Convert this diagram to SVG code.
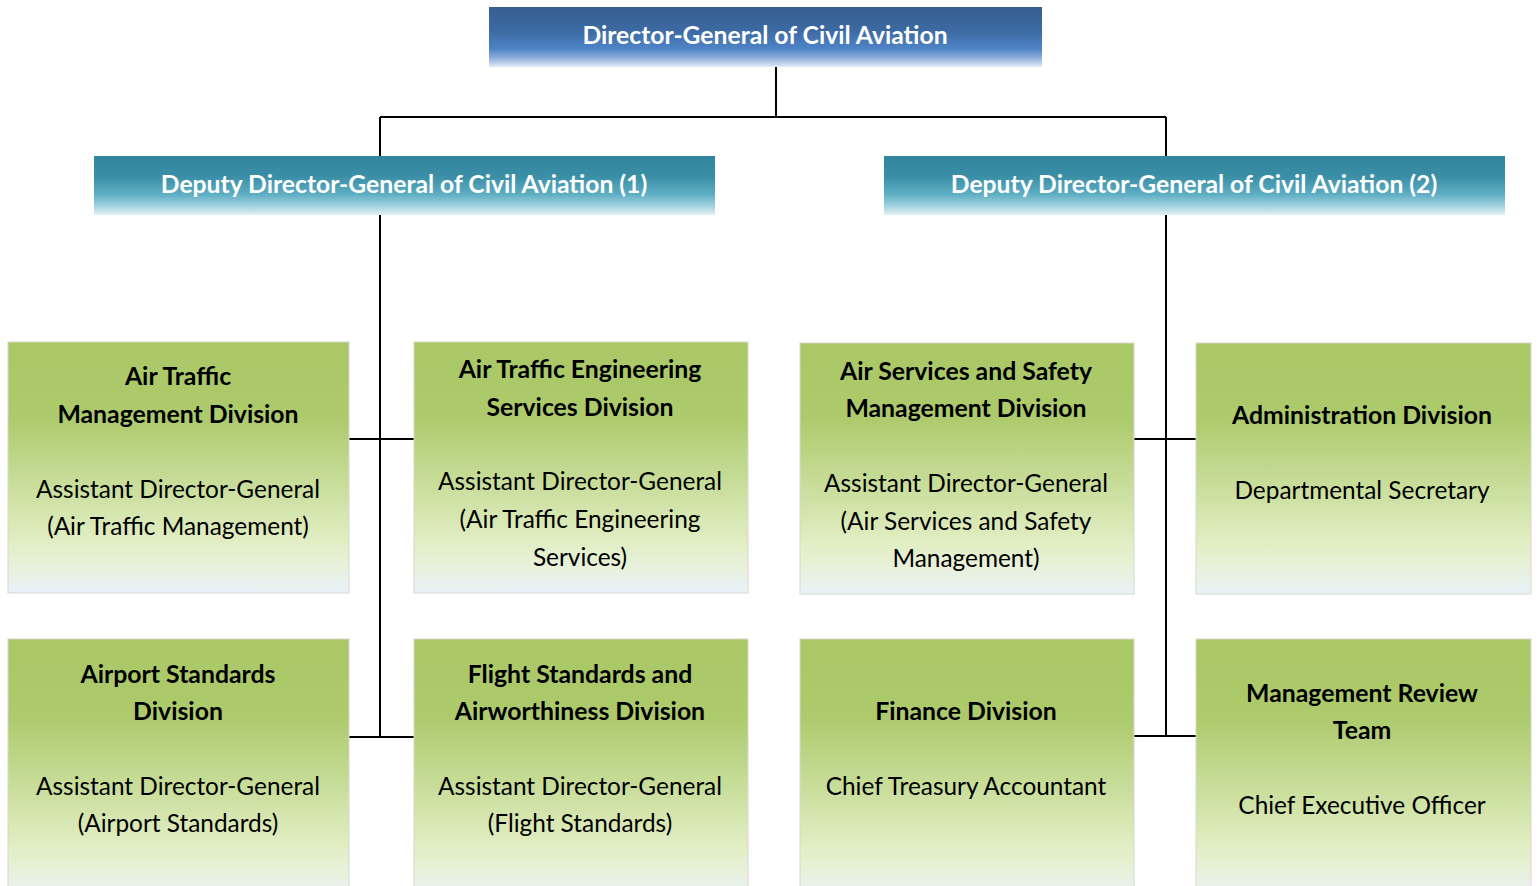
<svg xmlns="http://www.w3.org/2000/svg" width="1538" height="886" viewBox="0 0 1538 886">
  <defs>
    <linearGradient id="gTop" x1="0" y1="0" x2="0" y2="1">
      <stop offset="0" stop-color="#365f91"/>
      <stop offset="0.4" stop-color="#3d6aa3"/>
      <stop offset="0.7" stop-color="#4f84c8"/>
      <stop offset="0.85" stop-color="#8eaedb"/>
      <stop offset="1" stop-color="#e3ebf6"/>
    </linearGradient>
    <linearGradient id="gDep" x1="0" y1="0" x2="0" y2="1">
      <stop offset="0" stop-color="#31859c"/>
      <stop offset="0.35" stop-color="#3a8fa6"/>
      <stop offset="0.65" stop-color="#5eaec4"/>
      <stop offset="0.85" stop-color="#a3d2df"/>
      <stop offset="1" stop-color="#e4f1f5"/>
    </linearGradient>
    <linearGradient id="gDiv" x1="0" y1="0" x2="0" y2="1">
      <stop offset="0" stop-color="#aac866"/>
      <stop offset="0.3" stop-color="#adca6c"/>
      <stop offset="0.55" stop-color="#c6dc97"/>
      <stop offset="0.8" stop-color="#e2eec4"/>
      <stop offset="0.9" stop-color="#e8f1dc"/>
      <stop offset="1" stop-color="#eaf2fa"/>
    </linearGradient>
  </defs>
  <style>
    .head { font-family: Lato, "Open Sans", sans-serif; font-weight: bold; fill: #ffffff; text-anchor: middle; font-size: 24.7px; }
    .title { font-family: Lato, "Open Sans", sans-serif; font-weight: bold; fill: #000000; text-anchor: middle; font-size: 24.8px; }
    .role { font-family: Lato, "Open Sans", sans-serif; fill: #000000; text-anchor: middle; font-size: 24.4px; }
    .div { fill: url(#gDiv); stroke: #d4d9cc; stroke-width: 1; }
    .wire { stroke: #000000; stroke-width: 2; fill: none; }
  </style>

  <rect width="1538" height="886" fill="#ffffff"/>

  <!-- connectors -->
  <g id="connectors">
    <path class="wire" d="M776 67 V117 M380 117 H1166 M380 117 V156 M1166 117 V156"/>
    <path class="wire" d="M380 215 V737 M349 439 H414 M349 737 H414"/>
    <path class="wire" d="M1166 215 V736 M1134 439 H1196 M1134 736 H1196"/>
  </g>

  <g id="dg">
    <rect x="489" y="7" width="553" height="60" fill="url(#gTop)"/>
    <text class="head" x="765" y="44">Director-General of Civil Aviation</text>
  </g>

  <g id="ddg1">
    <rect x="94" y="156" width="621" height="59" fill="url(#gDep)"/>
    <text class="head" x="404" y="193">Deputy Director-General of Civil Aviation (1)</text>
  </g>

  <g id="ddg2">
    <rect x="884" y="156" width="621" height="59" fill="url(#gDep)"/>
    <text class="head" x="1194" y="193">Deputy Director-General of Civil Aviation (2)</text>
  </g>

  <g id="atm">
    <rect class="div" x="8" y="342" width="341" height="251"/>
    <text class="title" x="178" y="385">Air Traffic</text>
    <text class="title" x="178" y="423">Management Division</text>
    <text class="role" x="178" y="498">Assistant Director-General</text>
    <text class="role" x="178" y="535">(Air Traffic Management)</text>
  </g>

  <g id="ates">
    <rect class="div" x="414" y="342" width="334" height="251"/>
    <text class="title" x="580" y="378">Air Traffic Engineering</text>
    <text class="title" x="580" y="416">Services Division</text>
    <text class="role" x="580" y="490">Assistant Director-General</text>
    <text class="role" x="580" y="528">(Air Traffic Engineering</text>
    <text class="role" x="580" y="566">Services)</text>
  </g>

  <g id="assm">
    <rect class="div" x="800" y="343" width="334" height="251"/>
    <text class="title" x="966" y="380">Air Services and Safety</text>
    <text class="title" x="966" y="417">Management Division</text>
    <text class="role" x="966" y="492">Assistant Director-General</text>
    <text class="role" x="966" y="530">(Air Services and Safety</text>
    <text class="role" x="966" y="567">Management)</text>
  </g>

  <g id="admin">
    <rect class="div" x="1196" y="343" width="335" height="251"/>
    <text class="title" x="1362" y="424">Administration Division</text>
    <text class="role" x="1362" y="499">Departmental Secretary</text>
  </g>

  <g id="airport">
    <rect class="div" x="8" y="639" width="341" height="260"/>
    <text class="title" x="178" y="683">Airport Standards</text>
    <text class="title" x="178" y="720">Division</text>
    <text class="role" x="178" y="795">Assistant Director-General</text>
    <text class="role" x="178" y="832">(Airport Standards)</text>
  </g>

  <g id="flight">
    <rect class="div" x="414" y="639" width="334" height="260"/>
    <text class="title" x="580" y="683">Flight Standards and</text>
    <text class="title" x="580" y="720">Airworthiness Division</text>
    <text class="role" x="580" y="795">Assistant Director-General</text>
    <text class="role" x="580" y="832">(Flight Standards)</text>
  </g>

  <g id="finance">
    <rect class="div" x="800" y="639" width="334" height="260"/>
    <text class="title" x="966" y="720">Finance Division</text>
    <text class="role" x="966" y="795">Chief Treasury Accountant</text>
  </g>

  <g id="mrt">
    <rect class="div" x="1196" y="639" width="335" height="260"/>
    <text class="title" x="1362" y="702">Management Review</text>
    <text class="title" x="1362" y="739">Team</text>
    <text class="role" x="1362" y="814">Chief Executive Officer</text>
  </g>
</svg>
